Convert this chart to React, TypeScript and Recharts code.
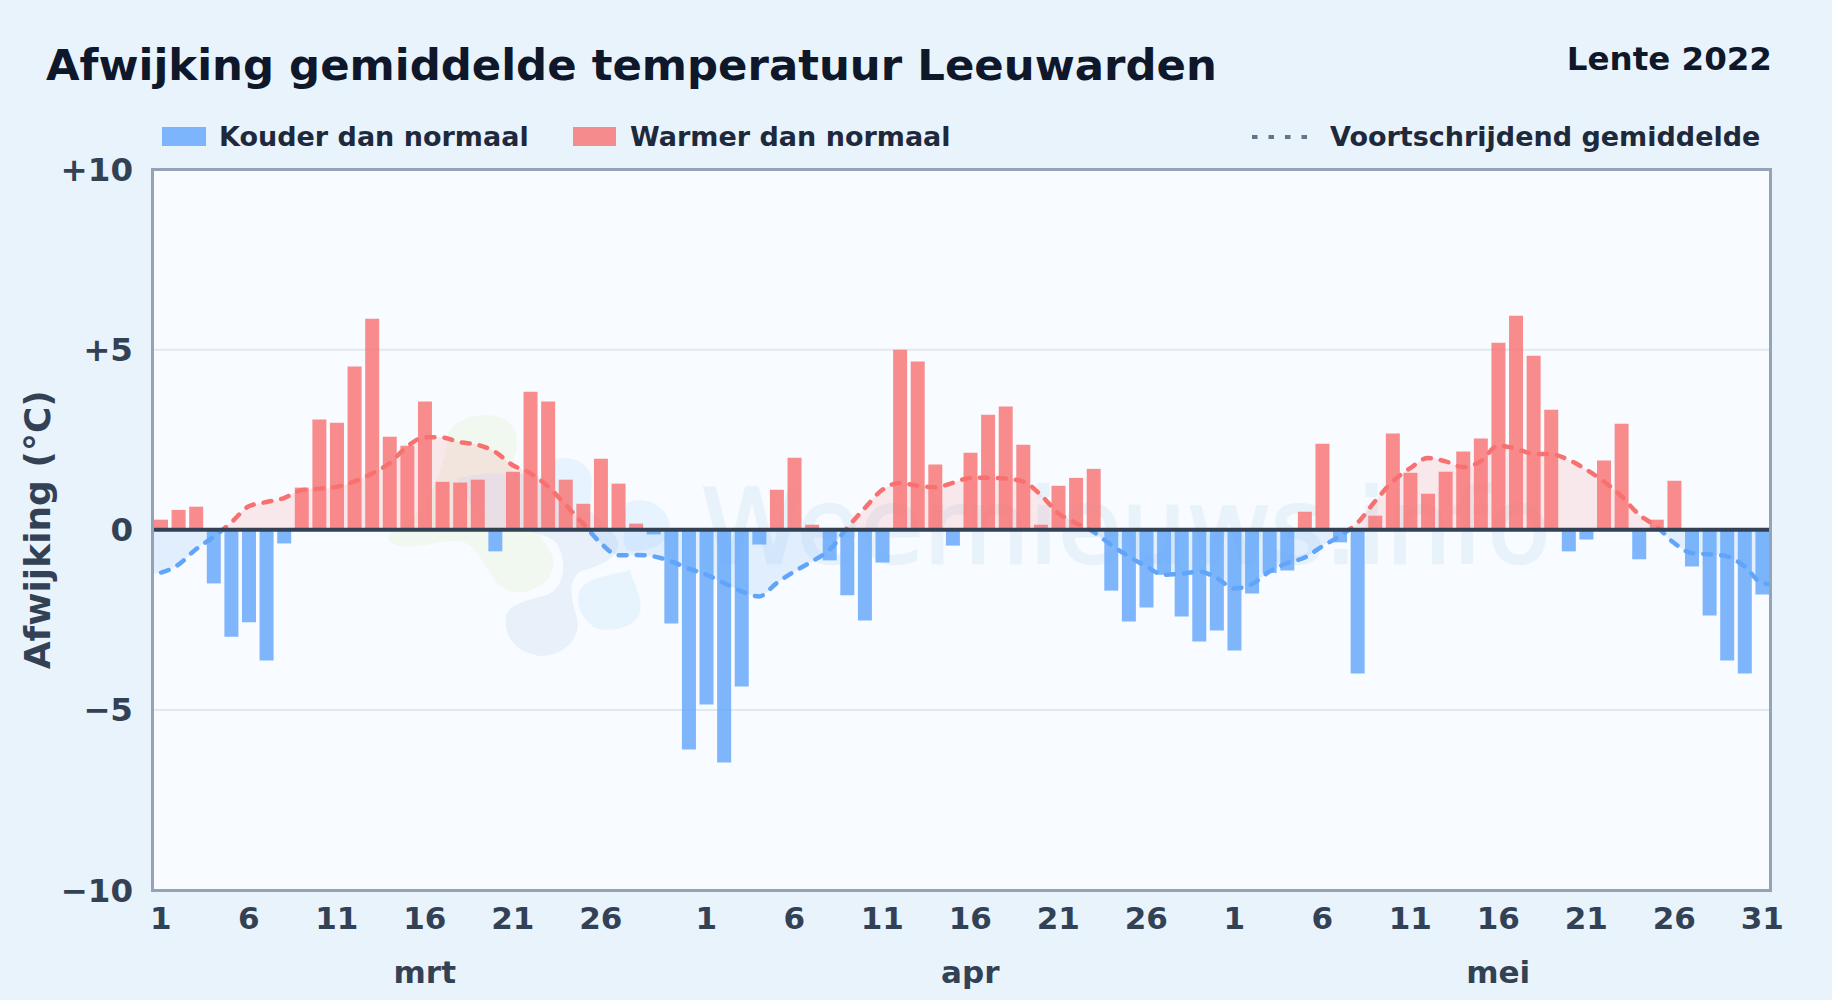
import {
  Area,
  Bar,
  CartesianGrid,
  ComposedChart,
  Label,
  Line,
  ReferenceLine,
  XAxis,
  YAxis,
} from "recharts";

const FONT = "'DejaVu Sans', sans-serif";

// daily deviation from normal, 1 March to 31 May
const marchValues = [
  0.28, 0.55, 0.64, -1.49, -2.97, -2.57, -3.63, -0.38, 1.17, 3.06, 2.97, 4.53, 5.86, 2.58, 2.33, 3.56,
  1.33, 1.31, 1.39, -0.6, 1.61, 3.83, 3.56, 1.39, 0.72, 1.97, 1.28, 0.17, -0.13, -2.6, -6.1,
];
const aprilValues = [
  -4.85, -6.46, -4.35, -0.41, 1.11, 2.0, 0.14, -0.85, -1.82, -2.52, -0.91, 5.0, 4.67, 1.81, -0.44, 2.14,
  3.19, 3.42, 2.36, 0.14, 1.22, 1.44, 1.69, -1.69, -2.55, -2.16, -1.25, -2.41, -3.1, -2.8,
];
const mayValues = [
  -3.35, -1.77, -1.2, -1.13, 0.5, 2.39, -0.35, -3.99, 0.39, 2.67, 1.58, 1.0, 1.61, 2.17, 2.53, 5.19,
  5.94, 4.83, 3.33, -0.6, -0.27, 1.92, 2.94, -0.82, 0.28, 1.36, -1.02, -2.38, -3.63, -3.99, -1.8,
];

// moving average, one value per day
const trendValues = [
  -1.19, -0.97, -0.54, -0.2, 0.2, 0.65, 0.77, 0.88, 1.1, 1.14, 1.19, 1.34, 1.56, 1.85, 2.31, 2.57,
  2.56, 2.43, 2.36, 2.16, 1.79, 1.57, 1.2, 0.69, 0.17, -0.37, -0.71, -0.7, -0.74, -0.88, -1.08,
  -1.25, -1.48, -1.71, -1.85, -1.48, -1.16, -0.88, -0.56, 0.05, 0.6, 1.11, 1.3, 1.22, 1.18, 1.3,
  1.44, 1.44, 1.42, 1.34, 0.97, 0.46, 0.19, -0.06, -0.42, -0.74, -1.02, -1.25, -1.22, -1.16, -1.34,
  -1.63, -1.51, -1.16, -0.93, -0.77, -0.46, -0.17, 0.19, 0.79, 1.34, 1.71, 1.99, 1.9, 1.74, 1.9,
  2.34, 2.25, 2.11, 2.1, 1.94, 1.67, 1.34, 0.93, 0.42, 0.09, -0.37, -0.65, -0.68, -0.74, -1.02, -1.48,
];
// the line runs on past the first and last day up to the plot border
const trendBefore = -1.25;
const trendAfter = -1.53;

const dayTicks = [1, 6, 11, 16, 21, 26, 32, 37, 42, 47, 52, 57, 62, 67, 72, 77, 82, 87, 92];
const dayLabels = ["1", "6", "11", "16", "21", "26", "1", "6", "11", "16", "21", "26", "1", "6", "11", "16", "21", "26", "31"];
const monthTicks = [16, 47, 77];
const monthLabels = ["mrt", "apr", "mei"];
const yTicks = [-10, -5, 0, 5, 10];
const yLabels = ["\u221210", "\u22125", "0", "+5", "+10"];

const values = [...marchValues, ...aprilValues, ...mayValues];

const rows = [
  { day: 0, trend: trendBefore },
  ...values.map((v, i) => ({
    day: i + 1,
    warm: v > 0 ? v : null,
    cold: v < 0 ? v : null,
    trend: trendValues[i],
  })),
  { day: 93, trend: trendAfter },
];

const COLD = "#60a5fa";
const WARM = "#f87171";
const PLOT_TOP = 169.5;
const PLOT_BOTTOM = 890;

function Watermark() {
  return (
    <svg width={1832} height={1000} style={{ position: "absolute", left: 0, top: 0 }}>
      <g transform="translate(380,400) scale(0.3333)">
        <path
          fill="#f1f8f0"
          d="M205,100 C225,45 370,15 405,90 C425,150 385,190 400,230 C440,400 510,420 520,480 C525,550 450,585 395,575 C330,560 320,470 260,430 C210,410 150,440 90,440 C40,440 10,420 30,400 C100,370 190,260 205,100 Z"
        />
        <path
          fill="#e8f0f9"
          d="M230,235 C300,215 400,220 470,225 C560,280 700,370 715,430 C715,480 650,500 600,515 C565,540 570,590 590,650 C610,730 530,770 480,768 C410,760 370,710 378,650 C385,610 450,600 500,585 C560,560 560,480 530,430 C500,390 320,380 310,385 Z"
        />
        <path fill="#e7f4fe" d="M600,570 C620,530 700,525 750,510 C760,550 790,590 780,640 C760,690 680,700 640,680 C600,650 585,610 600,570 Z" />
        <path fill="#e7f3fe" d="M520,180 C570,160 640,190 635,250 C630,300 640,320 600,340 L520,260 Z" />
        <path fill="#e7f3fe" d="M740,310 C790,280 870,320 870,385 C860,440 800,460 740,450 C720,420 740,380 730,350 Z" />
      </g>
      <text x={701} y={563} fontFamily={FONT} fontSize={103} fill="#e8f2fb" stroke="#e8f2fb" strokeWidth={2.5}>
        Weernieuws.info
      </text>
    </svg>
  );
}

function LegendRow() {
  const text = {
    position: "absolute" as const,
    top: 120,
    fontSize: 27,
    fontWeight: 700,
    color: "#1e293b",
    lineHeight: "34px",
    whiteSpace: "nowrap" as const,
  };
  return (
    <>
      <div style={{ position: "absolute", left: 162, top: 127, width: 44, height: 19, background: COLD, opacity: 0.8 }} />
      <div style={{ ...text, left: 219 }}>Kouder dan normaal</div>
      <div style={{ position: "absolute", left: 573, top: 127, width: 43, height: 19, background: WARM, opacity: 0.8 }} />
      <div style={{ ...text, left: 630 }}>Warmer dan normaal</div>
      <svg width={60} height={10} style={{ position: "absolute", left: 1250, top: 132 }}>
        <line x1={2} y1={5} x2={58} y2={5} stroke="#64748b" strokeWidth={4} strokeDasharray="5.5 11" />
      </svg>
      <div style={{ ...text, left: 1330 }}>Voortschrijdend gemiddelde</div>
    </>
  );
}

export default function App() {
  return (
    <div
      style={{
        position: "absolute",
        left: 0,
        top: 0,
        width: 1832,
        height: 1000,
        overflow: "hidden",
        background: "#e9f3fc",
        fontFamily: FONT,
      }}
    >
      <div style={{ position: "absolute", left: 46, top: 36, fontSize: 43.4, fontWeight: 700, color: "#0f172a", lineHeight: "58px", whiteSpace: "nowrap" }}>
        Afwijking gemiddelde temperatuur Leeuwarden
      </div>
      <div style={{ position: "absolute", right: 60, top: 38, fontSize: 32.5, fontWeight: 700, color: "#0f172a", lineHeight: "42px", whiteSpace: "nowrap" }}>
        Lente 2022
      </div>
      <LegendRow />

      <div
        style={{
          position: "absolute",
          left: 151,
          top: PLOT_TOP,
          width: 1621,
          height: PLOT_BOTTOM - PLOT_TOP,
          background: "#f8fbff",
        }}
      />
      <Watermark />

      <div style={{ position: "absolute", left: 0, top: 0 }}>
        <ComposedChart
          width={1832}
          height={1000}
          data={rows}
          stackOffset="sign"
          margin={{ top: PLOT_TOP, right: 61, bottom: 0, left: 0 }}
        >
          <defs>
            <linearGradient id="trendStroke" gradientUnits="userSpaceOnUse" x1={0} y1={PLOT_TOP} x2={0} y2={PLOT_BOTTOM}>
              <stop offset="50%" stopColor={WARM} />
              <stop offset="50%" stopColor={COLD} />
            </linearGradient>
            <linearGradient id="trendFill" gradientUnits="userSpaceOnUse" x1={0} y1={PLOT_TOP} x2={0} y2={PLOT_BOTTOM}>
              <stop offset="50%" stopColor={WARM} stopOpacity={0.14} />
              <stop offset="50%" stopColor={COLD} stopOpacity={0.15} />
            </linearGradient>
          </defs>
          <CartesianGrid vertical={false} stroke="#e2e8f0" strokeWidth={2} horizontalValues={[-5, 5]} />
          <XAxis
            xAxisId={0}
            dataKey="day"
            type="number"
            domain={[0.5, 92.5]}
            allowDataOverflow
            ticks={dayTicks}
            interval={0}
            height={60}
            axisLine={false}
            tickLine={false}
            tickMargin={11}
            tick={{ fontSize: 31, fontWeight: 700, fill: "#334155", fontFamily: FONT }}
            tickFormatter={(d: number) => dayLabels[dayTicks.indexOf(d)]}
          />
          <XAxis
            xAxisId={1}
            dataKey="day"
            type="number"
            domain={[0.5, 92.5]}
            allowDataOverflow
            ticks={monthTicks}
            interval={0}
            height={50}
            axisLine={false}
            tickLine={false}
            tickMargin={5}
            tick={{ fontSize: 31, fontWeight: 700, fill: "#334155", fontFamily: FONT }}
            tickFormatter={(d: number) => monthLabels[monthTicks.indexOf(d)]}
          />
          <YAxis
            type="number"
            domain={[-10, 10]}
            ticks={yTicks}
            interval={0}
            width={152}
            axisLine={false}
            tickLine={false}
            tickMargin={13}
            tick={{ fontSize: 32.5, fontWeight: 700, fill: "#334155", fontFamily: FONT }}
            tickFormatter={(v: number) => yLabels[yTicks.indexOf(v)]}
          >
            <Label
              value="Afwijking (°C)"
              angle={-90}
              position="insideLeft"
              offset={37}
              style={{ fontSize: 36, fontWeight: 700, fill: "#334155", fontFamily: FONT, textAnchor: "middle" }}
            />
          </YAxis>
          <Bar dataKey="cold" stackId="dev" barSize={14} fill={COLD} fillOpacity={0.8} isAnimationActive={false} />
          <Bar dataKey="warm" stackId="dev" barSize={14} fill={WARM} fillOpacity={0.8} isAnimationActive={false} />
          <Area
            dataKey="trend"
            type="monotone"
            baseValue={0}
            stroke="none"
            fill="url(#trendFill)"
            fillOpacity={1}
            dot={false}
            activeDot={false}
            isAnimationActive={false}
          />
          <Line
            dataKey="trend"
            type="monotone"
            stroke="url(#trendStroke)"
            strokeWidth={4.5}
            strokeDasharray="8 10"
            strokeLinecap="round"
            dot={false}
            activeDot={false}
            isAnimationActive={false}
          />
          <ReferenceLine y={0} stroke="#334155" strokeWidth={4} />
        </ComposedChart>
      </div>

      <div
        style={{
          position: "absolute",
          left: 151,
          top: PLOT_TOP - 1.5,
          width: 1621,
          height: PLOT_BOTTOM - PLOT_TOP + 3,
          boxSizing: "border-box",
          border: "3px solid #94a3b8",
          pointerEvents: "none",
        }}
      />
    </div>
  );
}
